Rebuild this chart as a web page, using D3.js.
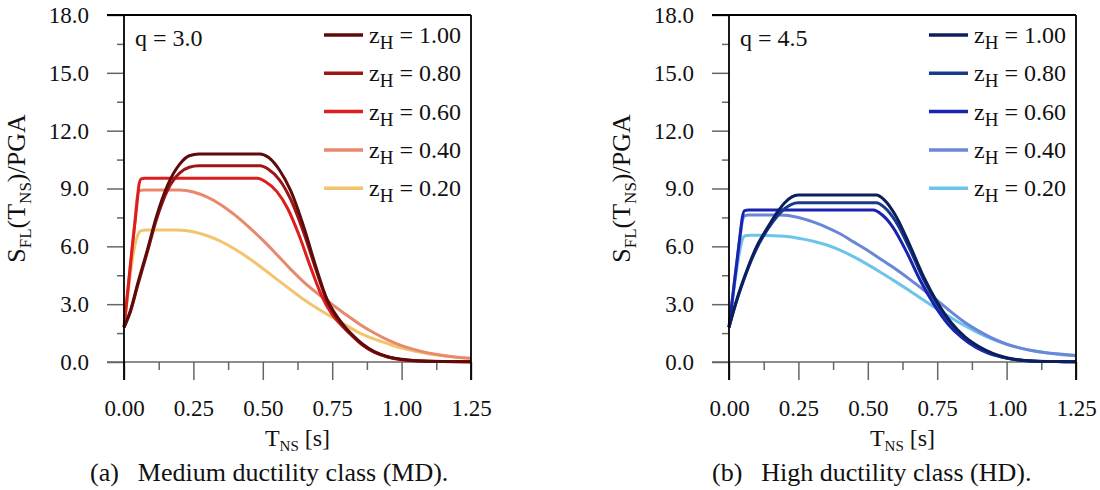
<!DOCTYPE html>
<html>
<head>
<meta charset="utf-8">
<script src="https://cdn.jsdelivr.net/npm/d3@7"></script>
<style>
  body { margin: 0; background: #fff; }
  svg text { font-family: "Liberation Serif", "Times New Roman", serif; fill: #111; }
</style>
</head>
<body>
<svg id="chart" width="1100" height="490"></svg>
<script>
// values: [T_NS (s), S_FL/PGA]
var zLabels = ["1.00", "0.80", "0.60", "0.40", "0.20"];
var xMajor = [0, 0.25, 0.5, 0.75, 1.0, 1.25];
var xMinor = [0.125, 0.375, 0.625, 0.875, 1.125];
var yMajor = [0, 3, 6, 9, 12, 15, 18];
var yMinor = [1.5, 4.5, 7.5, 10.5, 13.5, 16.5];

var md100 = [[0,1.8],[0.024,2.7],[0.05,4.1],[0.084,5.8],[0.116,7.5],[0.158,9.2],[0.2,10.25],[0.235,10.7],[0.27,10.79],[0.49,10.79],[0.52,10.62],[0.56,9.96],[0.6,8.9],[0.65,6.9],[0.69,5.0],[0.73,3.3],[0.77,2.3],[0.8,1.75],[0.83,1.3],[0.86,0.92],[0.9,0.55],[0.95,0.28],[1.0,0.14],[1.05,0.07],[1.15,0.02],[1.25,0.01]];
var md080 = [[0,1.8],[0.024,2.65],[0.05,4.0],[0.084,5.7],[0.116,7.35],[0.158,8.95],[0.2,9.8],[0.235,10.1],[0.27,10.18],[0.49,10.18],[0.52,10.0],[0.56,9.45],[0.6,8.45],[0.65,6.6],[0.69,4.85],[0.73,3.2],[0.77,2.2],[0.8,1.68],[0.83,1.25],[0.86,0.88],[0.9,0.52],[0.95,0.26],[1.0,0.13],[1.05,0.06],[1.15,0.02],[1.25,0.01]];
var md060 = [[0,1.8],[0.01,3.2],[0.02,4.6],[0.03,6.0],[0.04,7.3],[0.048,8.4],[0.054,9.2],[0.062,9.5],[0.075,9.53],[0.48,9.53],[0.51,9.35],[0.55,8.85],[0.59,7.95],[0.63,6.6],[0.67,5.0],[0.71,3.5],[0.75,2.45],[0.79,1.8],[0.83,1.25],[0.86,0.88],[0.9,0.52],[0.95,0.26],[1.0,0.12],[1.05,0.06],[1.15,0.02],[1.25,0.01]];
var md040 = [[0,1.8],[0.01,3.2],[0.02,4.6],[0.03,6.0],[0.04,7.4],[0.047,8.5],[0.055,8.88],[0.07,8.92],[0.2,8.92],[0.25,8.82],[0.3,8.55],[0.35,8.15],[0.4,7.62],[0.45,7.0],[0.5,6.32],[0.55,5.58],[0.6,4.82],[0.65,4.12],[0.7,3.52],[0.75,2.98],[0.8,2.45],[0.85,1.95],[0.9,1.52],[0.95,1.15],[1.0,0.85],[1.05,0.63],[1.1,0.46],[1.15,0.34],[1.2,0.25],[1.25,0.19]];
var md020 = [[0,1.8],[0.01,3.0],[0.02,4.2],[0.03,5.3],[0.04,6.1],[0.05,6.6],[0.06,6.8],[0.08,6.85],[0.19,6.85],[0.25,6.76],[0.3,6.55],[0.35,6.25],[0.4,5.85],[0.45,5.38],[0.5,4.85],[0.55,4.3],[0.6,3.75],[0.65,3.22],[0.7,2.75],[0.75,2.32],[0.8,1.9],[0.85,1.5],[0.9,1.2],[0.95,0.95],[1.0,0.72],[1.05,0.55],[1.1,0.42],[1.15,0.32],[1.2,0.24],[1.25,0.18]];

var hd100 = [[0,1.8],[0.023,3.0],[0.053,4.3],[0.1,6.0],[0.14,7.0],[0.173,7.75],[0.2,8.25],[0.225,8.55],[0.25,8.66],[0.53,8.66],[0.56,8.4],[0.6,7.6],[0.65,6.1],[0.7,4.45],[0.75,3.1],[0.8,2.05],[0.85,1.3],[0.9,0.8],[0.95,0.45],[1.0,0.22],[1.05,0.1],[1.1,0.05],[1.18,0.02],[1.25,0.01]];
var hd080 = [[0,1.8],[0.023,2.95],[0.053,4.25],[0.1,5.9],[0.14,6.9],[0.173,7.55],[0.2,7.95],[0.225,8.18],[0.25,8.26],[0.53,8.26],[0.56,8.02],[0.6,7.3],[0.65,5.9],[0.7,4.3],[0.75,3.0],[0.8,1.98],[0.85,1.25],[0.9,0.76],[0.95,0.42],[1.0,0.2],[1.05,0.09],[1.1,0.04],[1.18,0.02],[1.25,0.01]];
var hd060 = [[0,1.8],[0.01,3.0],[0.02,4.2],[0.03,5.4],[0.04,6.6],[0.048,7.5],[0.056,7.85],[0.07,7.88],[0.52,7.88],[0.55,7.65],[0.59,7.0],[0.64,5.7],[0.69,4.2],[0.74,2.95],[0.79,1.95],[0.84,1.25],[0.89,0.75],[0.94,0.42],[1.0,0.2],[1.05,0.09],[1.1,0.04],[1.18,0.02],[1.25,0.01]];
var hd040 = [[0,1.8],[0.01,3.0],[0.02,4.2],[0.03,5.35],[0.04,6.5],[0.048,7.3],[0.056,7.58],[0.07,7.62],[0.18,7.62],[0.25,7.5],[0.3,7.28],[0.35,7.0],[0.4,6.65],[0.45,6.22],[0.5,5.78],[0.55,5.3],[0.6,4.82],[0.65,4.3],[0.7,3.75],[0.75,3.2],[0.8,2.6],[0.85,2.05],[0.9,1.6],[0.95,1.22],[1.0,0.93],[1.05,0.72],[1.1,0.57],[1.15,0.47],[1.2,0.4],[1.25,0.34]];
var hd020 = [[0,1.8],[0.01,2.9],[0.02,4.0],[0.03,5.0],[0.04,5.85],[0.048,6.35],[0.058,6.55],[0.08,6.58],[0.2,6.52],[0.25,6.42],[0.3,6.28],[0.35,6.08],[0.4,5.8],[0.45,5.45],[0.5,5.05],[0.55,4.62],[0.6,4.17],[0.65,3.7],[0.7,3.22],[0.75,2.75],[0.8,2.3],[0.85,1.88],[0.9,1.5],[0.95,1.18],[1.0,0.92],[1.05,0.72],[1.1,0.57],[1.15,0.46],[1.2,0.38],[1.25,0.32]];

var mdColors = ["#5e0b0b", "#9e1515", "#dc1e1e", "#e8896e", "#f2c46e"];
var hdColors = ["#0b1f5c", "#173a8f", "#1a22b0", "#6a86d6", "#6cc4ea"];

var svg = d3.select("#chart");
var W = 347, H = 347, TOP = 15;

function drawPanel(x0, q, series, colors, caption, capX) {
  var g = svg.append("g").attr("transform", "translate(" + x0 + "," + TOP + ")");
  var x = d3.scaleLinear().domain([0, 1.25]).range([0, W]);
  var y = d3.scaleLinear().domain([0, 18]).range([H, 0]);

  // minor ticks
  g.append("g").attr("transform", "translate(0," + H + ")")
    .call(d3.axisBottom(x).tickValues(xMinor).tickSize(8).tickFormat(""))
    .call(function(a) { a.select(".domain").remove(); a.selectAll("line").attr("stroke", "#666").attr("stroke-width", 1.5); });
  g.append("g")
    .call(d3.axisLeft(y).tickValues(yMinor).tickSize(7).tickFormat(""))
    .call(function(a) { a.select(".domain").remove(); a.selectAll("line").attr("stroke", "#666").attr("stroke-width", 1.5); });

  // major ticks + labels
  g.append("g").attr("transform", "translate(0," + H + ")")
    .call(d3.axisBottom(x).tickValues(xMajor).tickSize(18).tickPadding(20).tickFormat(d3.format(".2f")))
    .call(function(a) {
      a.select(".domain").remove();
      a.selectAll("line").attr("stroke", "#666").attr("stroke-width", 1.5);
      a.selectAll("text").style("font-size", "23px").attr("fill", "#111");
    });
  g.append("g")
    .call(d3.axisLeft(y).tickValues(yMajor).tickSize(17).tickPadding(18).tickFormat(d3.format(".1f")))
    .call(function(a) {
      a.select(".domain").remove();
      a.selectAll("line").attr("stroke", "#666").attr("stroke-width", 1.5);
      a.selectAll("text").style("font-size", "23px").attr("fill", "#111");
    });

  // zero line
  g.append("line").attr("x1", -17).attr("x2", W).attr("y1", H).attr("y2", H).attr("stroke", "#666").attr("stroke-width", 1.5);

  // curves
  var line = d3.line()
    .x(function(d) { return x(d[0]); })
    .y(function(d) { return y(d[1]); })
    .curve(d3.curveMonotoneX);
  series.slice().reverse().forEach(function(s, i) {
    var k = series.length - 1 - i;
    g.append("path").attr("d", line(s)).attr("fill", "none")
      .attr("stroke", colors[k]).attr("stroke-width", 3).attr("stroke-linejoin", "round");
  });

  // frame
  g.append("line").attr("x1", -17).attr("x2", W).attr("y1", 0).attr("y2", 0).attr("stroke", "#000").attr("stroke-width", 1.8);
  g.append("line").attr("x1", 0).attr("x2", 0).attr("y1", 0).attr("y2", H + 18).attr("stroke", "#000").attr("stroke-width", 1.8);
  g.append("line").attr("x1", W).attr("x2", W).attr("y1", 0).attr("y2", H + 18).attr("stroke", "#000").attr("stroke-width", 1.8);

  // q label
  g.append("text").attr("x", 11).attr("y", 31).style("font-size", "24px").text("q = " + q);

  // legend
  var leg = g.selectAll(".leg").data(zLabels).enter().append("g")
    .attr("transform", function(d, i) { return "translate(200," + (20 + i * 38.3) + ")"; });
  leg.append("line").attr("x1", 0).attr("x2", 39).attr("stroke", function(d, i) { return colors[i]; }).attr("stroke-width", 3.5);
  var lt = leg.append("text").attr("x", 45).attr("y", 8).style("font-size", "24px");
  lt.append("tspan").text("z");
  lt.append("tspan").attr("dy", 6).style("font-size", "19px").text("H");
  lt.append("tspan").attr("dy", -6).text(function(d) { return " = " + d; });

  // axis titles
  var xt = g.append("text").attr("x", W / 2).attr("y", 431).attr("text-anchor", "middle").style("font-size", "24px");
  xt.append("tspan").text("T");
  xt.append("tspan").attr("dy", 5).style("font-size", "15px").text("NS");
  xt.append("tspan").attr("dy", -5).text(" [s]");

  var yt = g.append("text").attr("transform", "translate(-99," + (H / 2) + ") rotate(-90)")
    .attr("text-anchor", "middle").style("font-size", "26px");
  yt.append("tspan").text("S");
  yt.append("tspan").attr("dy", 6).style("font-size", "17px").text("FL");
  yt.append("tspan").attr("dy", -6).text("(T");
  yt.append("tspan").attr("dy", 6).style("font-size", "17px").text("NS");
  yt.append("tspan").attr("dy", -6).text(")/PGA");

  // caption
  var ct = svg.append("text").attr("x", capX).attr("y", 481).style("font-size", "26px");
  ct.append("tspan").text(caption[0]);
  ct.append("tspan").attr("dx", 19).text(caption[1]);
}

drawPanel(124, "3.0", [md100, md080, md060, md040, md020], mdColors, ["(a)", "Medium ductility class (MD)."], 90);
drawPanel(729, "4.5", [hd100, hd080, hd060, hd040, hd020], hdColors, ["(b)", "High ductility class (HD)."], 712);
</script>
</body>
</html>
